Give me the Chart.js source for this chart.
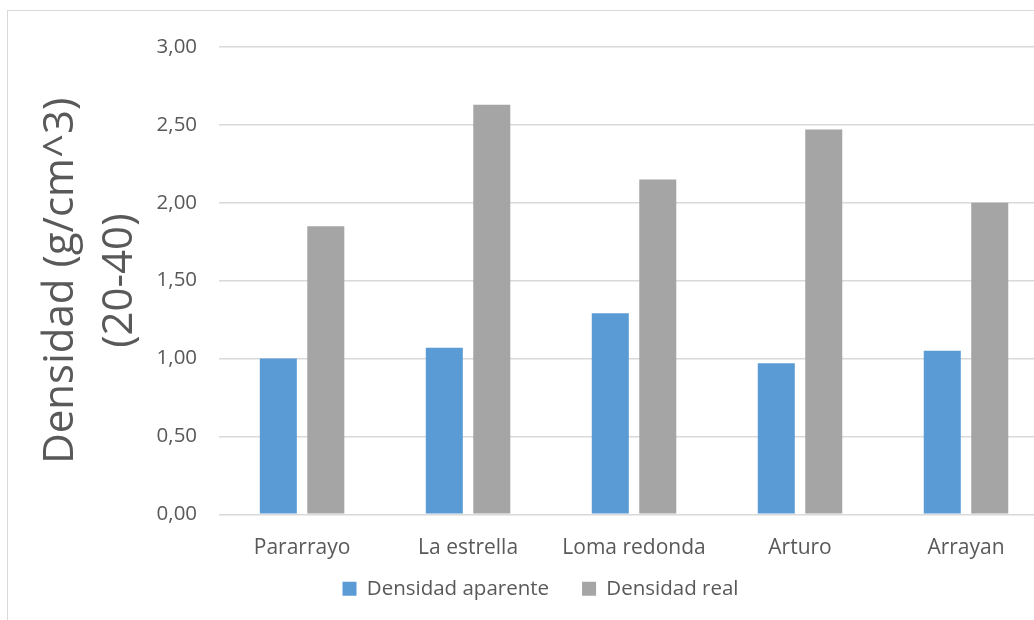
<!DOCTYPE html>
<html><head><meta charset="utf-8">
<script src="https://cdn.jsdelivr.net/npm/chart.js@4.4.1/dist/chart.umd.min.js"></script>
<style>
html,body{margin:0;padding:0;background:#fff;overflow:hidden;width:1034px;height:620px;}
#box{position:absolute;left:7px;top:10px;width:1046px;height:620px;border:1px solid #d9d9d9;box-sizing:border-box;}
#wrap{position:absolute;left:8px;top:11px;width:1046px;height:609px;}
</style></head><body>
<div id="box"></div>
<div id="wrap"><canvas id="c"></canvas></div>
<script>
const categories = ["Pararrayo","La estrella","Loma redonda","Arturo","Arrayan"];
const densidadAparente = [1.00,1.07,1.29,0.97,1.05];
const densidadReal = [1.85,2.63,2.15,2.47,2.00];
const yTitle = ["Densidad (g/cm^3)","(20-40)"];
const fam = "'Open Sans', sans-serif";
const LEG_PAD = 33, LEG_SHIFT = 28;
const legendSpacing = {
  id:'legendSpacing',
  beforeLayout(chart){
    const lg = chart.legend;
    if (lg && !lg.__wrapped){
      const f = lg.fit;
      lg.fit = function(){ f.call(this); this.height -= LEG_SHIFT; };
      lg.__wrapped = true;
    }
  },
  afterLayout(chart){
    const lg = chart.legend;
    if (lg){ lg.top -= LEG_SHIFT; lg.height += LEG_SHIFT; }
  }
};
new Chart(document.getElementById('c'),{
  type:'bar',
  data:{labels:categories,datasets:[
    {label:'Densidad aparente',data:densidadAparente,backgroundColor:'#5b9bd5',borderWidth:0},
    {label:'Densidad real',data:densidadReal,backgroundColor:'#a5a5a5',borderWidth:0}
  ]},
  plugins:[legendSpacing],
  options:{
    responsive:true,maintainAspectRatio:false,animation:false,
    layout:{padding:{top:36,right:5,left:24,bottom:11}},
    categoryPercentage:0.572,barPercentage:0.78,
    plugins:{
      legend:{position:'bottom',labels:{boxWidth:14,boxHeight:14,padding:LEG_PAD,color:'#595959',font:{family:fam,size:20.5}}},
      tooltip:{enabled:false}
    },
    scales:{
      x:{grid:{display:false},border:{display:false},
         ticks:{color:'#595959',font:{family:fam,size:21},padding:13}},
      y:{min:0,max:3,
         ticks:{stepSize:0.5,color:'#595959',font:{family:fam,size:20.5},padding:22,
           callback:v=>v.toFixed(2).replace('.',',')},
         grid:{color:'#d9d9d9',lineWidth:1.5,drawTicks:false},
         border:{display:false},
         title:{display:true,text:yTitle,color:'#595959',font:{family:fam,size:42,lineHeight:1.4},padding:{top:0,bottom:-15}}}
    }
  }
});
</script>
</body></html>
